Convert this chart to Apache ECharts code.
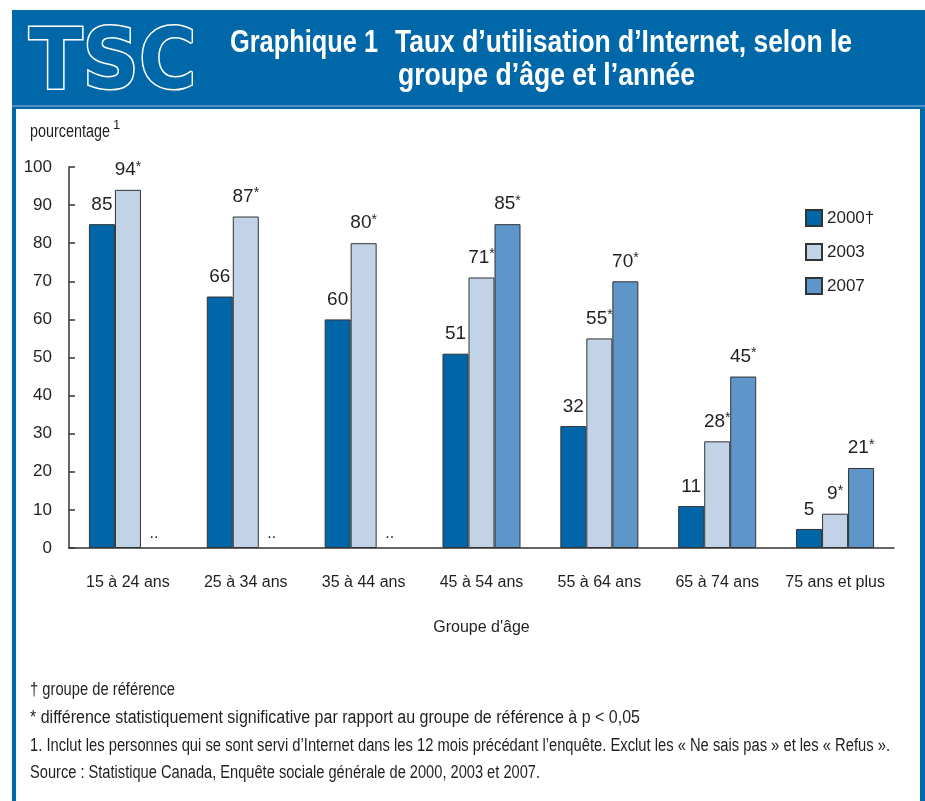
<!DOCTYPE html>
<html>
<head>
<meta charset="utf-8">
<script src="https://cdn.jsdelivr.net/npm/echarts@6/dist/echarts.min.js"></script>
<style>
  html, body { margin: 0; padding: 0; background: #fff; }
  #chart { width: 925px; height: 801px; }
</style>
</head>
<body>
<div id="chart"></div>
<script>
const categories = ['15 à 24 ans', '25 à 34 ans', '35 à 44 ans', '45 à 54 ans', '55 à 64 ans', '65 à 74 ans', '75 ans et plus'];
const years = ['2000†', '2003', '2007'];
const v2000 = [85, 66, 60, 51, 32, 11, 5];
const v2003 = [94, 87, 80, 71, 55, 28, 9];
const v2007 = [null, null, null, 85, 70, 45, 21];
// significance flags (*) per series
const sig2000 = [false, false, false, false, false, false, false];
const sig2003 = [true, true, true, true, true, true, true];
const sig2007 = [false, false, false, true, true, true, true];
const yTicks = [0, 10, 20, 30, 40, 50, 60, 70, 80, 90, 100];

const FONT = "'Liberation Sans', Arial, sans-serif";
const colors = ['#0066a8', '#c2d3e8', '#5f96c9'];
const BLUE = '#0068a9';
const INK = '#231f20';

const chart = echarts.init(document.getElementById('chart'));

// squeeze a text to a target width so it looks like the condensed original face
const ctx = document.createElement('canvas').getContext('2d');
function fitText(text, font, x, y, width, fill) {
  ctx.font = font;
  const w = ctx.measureText(text).width;
  return {
    type: 'text', silent: true, x, y,
    scaleX: width / w, scaleY: 1,
    style: { text, font, fill: fill || INK, textVerticalAlign: 'middle' }
  };
}

function makeSeries(name, values, sig, color) {
  return {
    name,
    type: 'bar',
    barWidth: 26,
    barGap: '0%',
    itemStyle: { color, borderColor: '#333', borderWidth: 1 },
    label: {
      show: true,
      position: 'top',
      distance: 10,
      fontFamily: FONT,
      fontSize: 19,
      color: INK,
      rich: {
        v: { fontFamily: FONT, fontSize: 19, color: INK },
        s: { fontFamily: FONT, fontSize: 14, color: INK, verticalAlign: 'top', padding: [0, 0, 6, 0] }
      }
    },
    data: values.map((v, i) => {
      if (v === null) {
        return {
          value: 0,
          itemStyle: { color: 'transparent', borderWidth: 0 },
          label: { formatter: '..', distance: 6, fontSize: 16 }
        };
      }
      return {
        value: v,
        label: { formatter: sig[i] ? '{v|' + v + '}{s|*}' : '{v|' + v + '}' }
      };
    })
  };
}

const titleFont = 'bold 31px ' + FONT;
const noteFont = '18px ' + FONT;

const option = {
  animation: false,
  color: colors,
  graphic: [
    { type: 'rect', silent: true, z: -10, shape: { x: 12, y: 10, width: 913, height: 791 }, style: { fill: BLUE } },
    { type: 'rect', silent: true, z: -9, shape: { x: 12, y: 105, width: 913, height: 2 }, style: { fill: '#4d8fc6' } },
    { type: 'rect', silent: true, z: -8, shape: { x: 16, y: 109, width: 904, height: 692 }, style: { fill: '#fff' } },
    { type: 'text', silent: true, x: 29, y: 24, scaleX: 0.98, scaleY: 1.05, style: { text: 'TSC', font: 'bold 80px "DejaVu Sans"', fill: BLUE, stroke: '#fff', lineWidth: 3 } },
    fitText('Graphique 1', titleFont, 230, 43, 148, '#fff'),
    fitText('Taux d’utilisation d’Internet, selon le', titleFont, 395, 43, 457, '#fff'),
    fitText('groupe d’âge et l’année', titleFont, 398, 76, 297, '#fff'),
    fitText('pourcentage', '18px ' + FONT, 30, 132, 80),
    { type: 'text', silent: true, x: 113, y: 119, style: { text: '1', font: '13px ' + FONT, fill: INK } },
    fitText('† groupe de référence', noteFont, 30, 690, 145),
    fitText('* différence statistiquement significative par rapport au groupe de référence à p < 0,05', noteFont, 30, 718, 610),
    fitText('1. Inclut les personnes qui se sont servi d’Internet dans les 12 mois précédant l’enquête. Exclut les « Ne sais pas » et les « Refus ».', noteFont, 30, 746, 860),
    fitText('Source : Statistique Canada, Enquête sociale générale de 2000, 2003 et 2007.', noteFont, 30, 773, 510)
  ],
  legend: {
    orient: 'vertical',
    left: 800,
    top: 204,
    icon: 'rect',
    itemWidth: 16,
    itemHeight: 16,
    itemGap: 16,
    data: years,
    textStyle: { fontFamily: FONT, fontSize: 17, color: INK }
  },
  grid: { left: 69, right: 31, top: 167, bottom: 253 },
  xAxis: {
    type: 'category',
    data: categories,
    name: 'Groupe d\'âge',
    nameLocation: 'middle',
    nameGap: 72,
    nameTextStyle: { fontFamily: FONT, fontSize: 16, color: INK },
    axisLine: { lineStyle: { color: '#333', width: 1.5 } },
    axisTick: { show: false },
    axisLabel: { interval: 0, fontFamily: FONT, fontSize: 16, color: INK, margin: 27 }
  },
  yAxis: {
    type: 'value',
    min: yTicks[0],
    max: yTicks[yTicks.length - 1],
    interval: 10,
    splitLine: { show: false },
    axisLine: { show: true, lineStyle: { color: '#333', width: 1.5 } },
    axisTick: { show: true, inside: true, length: 6, lineStyle: { color: '#333', width: 1.5 } },
    axisLabel: { fontFamily: FONT, fontSize: 17, color: INK, margin: 17 }
  },
  series: [
    makeSeries(years[0], v2000, sig2000, colors[0]),
    makeSeries(years[1], v2003, sig2003, colors[1]),
    makeSeries(years[2], v2007, sig2007, colors[2])
  ]
};

chart.setOption(option);
</script>
</body>
</html>
